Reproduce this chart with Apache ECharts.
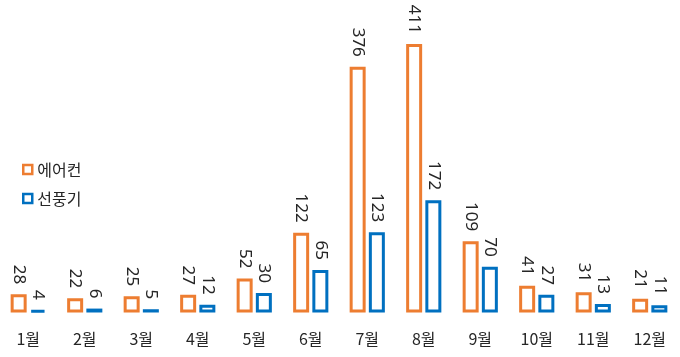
<!DOCTYPE html>
<html><head><meta charset="utf-8">
<script src="https://cdn.jsdelivr.net/npm/echarts@6/dist/echarts.min.js"></script>
<style>html,body{margin:0;padding:0;background:#fff}#c{width:680px;height:357px}</style>
</head><body><div id="c"></div>
<script>
const categories = ['1월','2월','3월','4월','5월','6월','7월','8월','9월','10월','11월','12월'];
const aircon = [28,22,25,27,52,122,376,411,109,41,31,21];
const fan = [4,6,5,12,30,65,123,172,70,27,13,11];
const seriesNames = ['에어컨','선풍기'];
const colors = ['#ED7D31','#0070C0'];

const font = '"Noto Sans CJK KR", "Noto Sans", sans-serif';
const chart = echarts.init(document.getElementById('c'), null, {renderer:'canvas'});
function mk(name, data, color){
  return {
    name, type:'bar', data, barWidth:16,
    barGap:'20%',
    itemStyle:{color:'#fff', borderColor:color, borderWidth:3},
    label:{show:true, position:'top', rotate:-90, align:'right', verticalAlign:'middle',
      distance:10, fontSize:17, color:'#262626', fontFamily:'"Noto Sans", sans-serif'},
    emphasis:{disabled:true}, animation:false
  };
}
chart.setOption({
  animation:false,
  grid:{left:-4, width:682, top:18.5, bottom:44.5, containLabel:false},
  legend:{
    orient:'vertical', left:17, top:155, itemWidth:9, itemHeight:9, itemGap:10,
    textStyle:{fontSize:16, color:'#262626', fontFamily:font, lineHeight:19},
    data:[
      {name:seriesNames[0], icon:'rect', itemStyle:{color:'#fff', borderColor:colors[0], borderWidth:2.5}},
      {name:seriesNames[1], icon:'rect', itemStyle:{color:'#fff', borderColor:colors[1], borderWidth:2.5}}
    ]
  },
  xAxis:{type:'category', data:categories,
    axisLine:{show:false}, axisTick:{show:false},
    axisLabel:{fontSize:16, color:'#262626', fontFamily:font, margin:18}},
  yAxis:{type:'value', min:0, max:450, show:false, splitLine:{show:false}},
  series:[mk(seriesNames[0], aircon, colors[0]), mk(seriesNames[1], fan, colors[1])]
});
</script></body></html>
